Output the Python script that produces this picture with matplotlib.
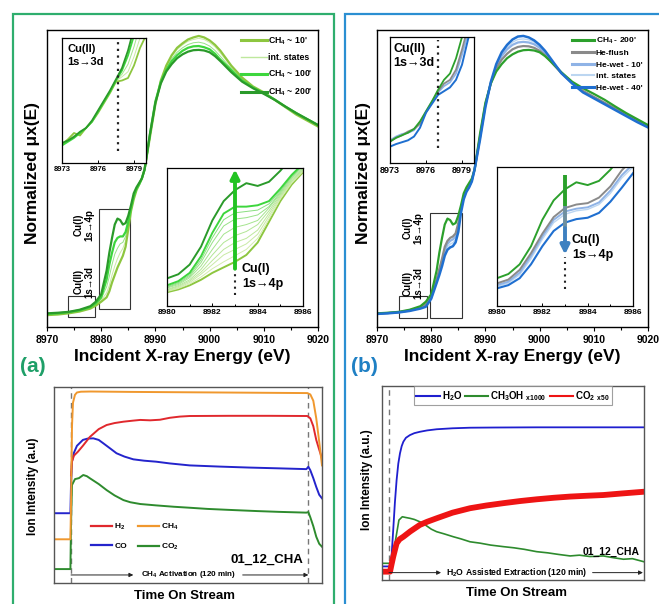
import matplotlib
matplotlib.use('Agg')
import matplotlib.pyplot as plt
from matplotlib.patches import Rectangle
from matplotlib.lines import Line2D
from matplotlib.ticker import MultipleLocator

plt.rcParams['font.family'] = ['Liberation Sans', 'DejaVu Sans']
plt.rcParams['font.weight'] = 'bold'
plt.rcParams['mathtext.fontset'] = 'custom'
plt.rcParams['mathtext.rm'] = 'Liberation Sans:bold'
plt.rcParams['mathtext.it'] = 'Liberation Sans:italic:bold'
plt.rcParams['mathtext.bf'] = 'Liberation Sans:bold'

# ---------------- DATA ----------------
E_main = [8970, 8972, 8974, 8976, 8978, 8979, 8980, 8981, 8981.5, 8982, 8982.5, 8983, 8983.5,
          8984, 8984.5, 8985, 8985.5, 8986, 8986.5, 8987, 8987.5, 8988, 8989, 8990, 8991, 8992,
          8993, 8994, 8995, 8996, 8997, 8998, 8999, 9000, 9001, 9002, 9004, 9006, 9008, 9010,
          9012, 9014, 9016, 9018, 9020]

a_ch4_10 = [0.040, 0.042, 0.046, 0.052, 0.062, 0.072, 0.085, 0.10, 0.12, 0.15, 0.175, 0.20, 0.22,
            0.24, 0.27, 0.33, 0.39, 0.43, 0.46, 0.48, 0.50, 0.53, 0.64, 0.75, 0.83, 0.88, 0.915,
            0.94, 0.955, 0.968, 0.975, 0.98, 0.975, 0.965, 0.95, 0.93, 0.88, 0.84, 0.81, 0.79,
            0.765, 0.74, 0.715, 0.695, 0.675]
a_int_1 = [0.041, 0.043, 0.047, 0.053, 0.064, 0.075, 0.09, 0.115, 0.14, 0.175, 0.205, 0.23, 0.25,
           0.265, 0.29, 0.34, 0.395, 0.435, 0.462, 0.481, 0.50, 0.53, 0.645, 0.752, 0.828, 0.876,
           0.91, 0.934, 0.95, 0.962, 0.968, 0.972, 0.968, 0.958, 0.943, 0.922, 0.876, 0.837, 0.809,
           0.789, 0.765, 0.741, 0.716, 0.696, 0.676]
a_int_2 = [0.042, 0.044, 0.048, 0.054, 0.065, 0.077, 0.095, 0.135, 0.17, 0.21, 0.245, 0.265, 0.28,
           0.285, 0.305, 0.345, 0.398, 0.438, 0.464, 0.481, 0.50, 0.53, 0.647, 0.756, 0.827, 0.87,
           0.903, 0.925, 0.94, 0.951, 0.957, 0.959, 0.955, 0.946, 0.931, 0.911, 0.87, 0.834, 0.808,
           0.788, 0.766, 0.742, 0.718, 0.698, 0.678]
a_ch4_100 = [0.044, 0.046, 0.050, 0.056, 0.067, 0.080, 0.10, 0.16, 0.21, 0.25, 0.285, 0.30, 0.305,
             0.305, 0.32, 0.355, 0.40, 0.44, 0.465, 0.48, 0.50, 0.53, 0.65, 0.76, 0.825, 0.865,
             0.895, 0.915, 0.93, 0.94, 0.945, 0.946, 0.942, 0.935, 0.92, 0.90, 0.865, 0.83, 0.806,
             0.787, 0.766, 0.742, 0.72, 0.70, 0.68]
a_ch4_200 = [0.046, 0.048, 0.051, 0.058, 0.070, 0.085, 0.11, 0.19, 0.25, 0.30, 0.345, 0.365, 0.36,
             0.345, 0.35, 0.375, 0.41, 0.45, 0.47, 0.485, 0.50, 0.53, 0.65, 0.755, 0.82, 0.86,
             0.885, 0.905, 0.918, 0.927, 0.932, 0.933, 0.931, 0.925, 0.912, 0.895, 0.858, 0.826,
             0.804, 0.785, 0.765, 0.742, 0.72, 0.70, 0.68]

b_ch4_200 = a_ch4_200
b_he_flush = [0.045, 0.047, 0.050, 0.056, 0.066, 0.076, 0.10, 0.16, 0.195, 0.23, 0.27, 0.29, 0.30,
              0.305, 0.315, 0.35, 0.40, 0.44, 0.46, 0.475, 0.495, 0.53, 0.64, 0.75, 0.82, 0.87,
              0.90, 0.92, 0.935, 0.943, 0.946, 0.945, 0.94, 0.93, 0.915, 0.895, 0.855, 0.822,
              0.795, 0.775, 0.755, 0.735, 0.715, 0.695, 0.675]
b_he_wet_10 = [0.045, 0.047, 0.050, 0.055, 0.065, 0.074, 0.098, 0.155, 0.19, 0.222, 0.26, 0.28,
               0.29, 0.295, 0.305, 0.34, 0.395, 0.437, 0.458, 0.473, 0.493, 0.53, 0.637, 0.746,
               0.823, 0.877, 0.912, 0.935, 0.95, 0.958, 0.96, 0.958, 0.952, 0.94, 0.922, 0.90,
               0.857, 0.822, 0.794, 0.773, 0.753, 0.733, 0.713, 0.693, 0.674]
b_int = [0.044, 0.046, 0.049, 0.055, 0.064, 0.071, 0.097, 0.152, 0.183, 0.214, 0.25, 0.27, 0.279,
         0.284, 0.295, 0.33, 0.39, 0.434, 0.456, 0.471, 0.491, 0.53, 0.634, 0.743, 0.824, 0.881,
         0.918, 0.942, 0.959, 0.968, 0.97, 0.967, 0.959, 0.945, 0.926, 0.903, 0.856, 0.821, 0.792,
         0.772, 0.752, 0.732, 0.712, 0.692, 0.673]
b_he_wet_40 = [0.044, 0.046, 0.049, 0.054, 0.062, 0.068, 0.095, 0.148, 0.175, 0.205, 0.24, 0.26,
               0.268, 0.272, 0.285, 0.32, 0.385, 0.43, 0.455, 0.47, 0.49, 0.53, 0.63, 0.74, 0.825,
               0.885, 0.925, 0.95, 0.968, 0.978, 0.98, 0.975, 0.965, 0.95, 0.93, 0.905, 0.855,
               0.82, 0.79, 0.77, 0.75, 0.73, 0.71, 0.69, 0.672]

# inset Cu(I) 1s->4p region
E_4p = [8980, 8980.5, 8981, 8981.5, 8982, 8982.5, 8983, 8983.5, 8984, 8984.5, 8985, 8985.5, 8986]
a4_ch4_10 = [0.10, 0.12, 0.15, 0.19, 0.24, 0.28, 0.32, 0.37, 0.46, 0.61, 0.76, 0.88, 0.97]
a4_int = [
    [0.105, 0.127, 0.16, 0.21, 0.27, 0.32, 0.365, 0.41, 0.49, 0.63, 0.775, 0.89, 0.975],
    [0.11, 0.133, 0.17, 0.23, 0.30, 0.37, 0.41, 0.45, 0.52, 0.65, 0.785, 0.90, 0.98],
    [0.115, 0.14, 0.18, 0.245, 0.33, 0.41, 0.46, 0.49, 0.55, 0.67, 0.795, 0.905, 0.985],
    [0.12, 0.147, 0.19, 0.265, 0.37, 0.46, 0.51, 0.54, 0.59, 0.69, 0.805, 0.915, 0.99],
    [0.13, 0.155, 0.205, 0.29, 0.41, 0.52, 0.57, 0.59, 0.62, 0.71, 0.815, 0.925, 1.0],
    [0.135, 0.163, 0.215, 0.315, 0.46, 0.58, 0.63, 0.64, 0.66, 0.72, 0.825, 0.935, 1.01],
    [0.14, 0.17, 0.225, 0.335, 0.495, 0.625, 0.675, 0.685, 0.695, 0.74, 0.835, 0.94, 1.02],
]
a4_ch4_100 = [0.15, 0.18, 0.24, 0.36, 0.53, 0.67, 0.72, 0.72, 0.73, 0.76, 0.85, 0.95, 1.03]
a4_ch4_200 = [0.20, 0.23, 0.30, 0.43, 0.62, 0.76, 0.84, 0.89, 0.87, 0.90, 0.98, 1.08, 1.18]

b4_ch4_200 = a4_ch4_200
b4_he_flush = [0.163, 0.19, 0.26, 0.38, 0.52, 0.64, 0.705, 0.73, 0.74, 0.78, 0.86, 0.975, 1.06]
b4_he_wet_10 = [0.15, 0.175, 0.24, 0.36, 0.50, 0.62, 0.68, 0.70, 0.71, 0.745, 0.83, 0.94, 1.02]
b4_int = [0.14, 0.165, 0.225, 0.34, 0.48, 0.60, 0.66, 0.685, 0.695, 0.73, 0.81, 0.92, 1.0]
b4_he_wet_40 = [0.127, 0.15, 0.20, 0.30, 0.43, 0.54, 0.60, 0.625, 0.635, 0.67, 0.75, 0.85, 0.955]

# inset Cu(II) 1s->3d region
E_3d = [8973, 8973.5, 8974, 8974.5, 8975, 8975.5, 8976, 8976.5, 8977, 8977.5, 8978, 8978.5,
        8979, 8979.5, 8980]
a3_ch4_10 = [0.15, 0.19, 0.24, 0.22, 0.28, 0.33, 0.40, 0.48, 0.56, 0.65, 0.66, 0.68, 0.78, 0.92, 1.02]
a3_int_1 = [0.15, 0.185, 0.22, 0.23, 0.28, 0.33, 0.405, 0.485, 0.565, 0.655, 0.69, 0.73, 0.85, 1.0, 1.15]
a3_int_2 = [0.145, 0.175, 0.21, 0.235, 0.28, 0.33, 0.41, 0.49, 0.57, 0.66, 0.71, 0.79, 0.93, 1.1, 1.28]
a3_ch4_100 = [0.14, 0.17, 0.20, 0.24, 0.28, 0.33, 0.41, 0.49, 0.57, 0.66, 0.74, 0.86, 1.02, 1.2, 1.4]
a3_ch4_200 = [0.16, 0.18, 0.21, 0.25, 0.28, 0.34, 0.42, 0.50, 0.58, 0.67, 0.76, 0.90, 1.08, 1.3, 1.5]

b3_ch4_200 = [0.17, 0.20, 0.22, 0.24, 0.27, 0.33, 0.41, 0.49, 0.58, 0.66, 0.71, 0.83, 1.0, 1.18, 1.35]
b3_he_flush = [0.17, 0.20, 0.22, 0.25, 0.27, 0.31, 0.40, 0.48, 0.57, 0.63, 0.66, 0.74, 0.90, 1.08, 1.25]
b3_he_wet_10 = [0.18, 0.21, 0.23, 0.24, 0.26, 0.32, 0.41, 0.49, 0.56, 0.61, 0.64, 0.71, 0.86, 1.03, 1.2]
b3_he_wet_40 = [0.13, 0.15, 0.165, 0.18, 0.21, 0.28, 0.40, 0.47, 0.54, 0.57, 0.60, 0.66, 0.78, 0.98, 1.15]

# mass spec (a): CH4 activation
t_ch4 = [-8.6, -0.3, 0.0, 0.5, 1.0, 2.0, 3.0, 5, 10, 30, 60, 90, 119.5, 121, 122.5, 124, 125.5, 126.9]
ms_ch4 = [0.223, 0.223, 0.40, 0.80, 0.92, 0.96, 0.972, 0.976, 0.977, 0.975, 0.973, 0.971, 0.969,
          0.962, 0.93, 0.84, 0.72, 0.60]
t_h2 = [0.0, 0.5, 1.5, 3.5, 6, 9.5, 14, 18, 22, 26.5, 31, 35, 40, 45, 50, 55, 60, 80, 100, 119.5,
        121, 122.5, 124, 125.5, 126.9]
ms_h2 = [0.55, 0.62, 0.65, 0.67, 0.70, 0.745, 0.785, 0.806, 0.816, 0.823, 0.828, 0.832, 0.830,
         0.833, 0.843, 0.849, 0.852, 0.853, 0.853, 0.852, 0.84, 0.80, 0.73, 0.68, 0.635]
t_co = [-8.6, -0.3, 0.0, 0.5, 1.5, 3, 6, 8.5, 11.3, 14, 16.3, 20, 23, 27, 31.5, 37, 43, 50, 60, 75,
        90, 105, 119, 120, 121, 122.5, 124, 125.5, 126.9]
ms_co = [0.356, 0.356, 0.50, 0.62, 0.665, 0.70, 0.73, 0.737, 0.738, 0.73, 0.713, 0.685, 0.662, 0.645,
         0.631, 0.624, 0.619, 0.61, 0.60, 0.594, 0.589, 0.585, 0.581, 0.593, 0.575, 0.535, 0.49,
         0.45, 0.432]
t_co2 = [-8.6, -0.3, 0.0, 0.5, 2, 4, 6.2, 8, 9.6, 14, 18, 22, 26.5, 30, 35, 43, 52, 60, 69, 80, 94,
         105, 119, 120, 121, 122.5, 124, 125.5, 126.9]
ms_co2 = [0.071, 0.071, 0.30, 0.50, 0.53, 0.535, 0.551, 0.545, 0.534, 0.505, 0.474, 0.447, 0.423,
          0.412, 0.403, 0.396, 0.389, 0.384, 0.378, 0.373, 0.367, 0.363, 0.359, 0.362, 0.335, 0.29,
          0.236, 0.20, 0.185]

# mass spec (b): H2O assisted extraction
t_h2o = [-3.3, 0.5, 1.2, 2.0, 2.8, 3.6, 4.4, 5.2, 6.0, 6.8, 8.0, 9.9, 12, 14.6, 18, 22.5, 30, 38.3,
         50, 70, 90, 110, 120.5]
ms_h2o = [0.07, 0.07, 0.12, 0.258, 0.40, 0.515, 0.60, 0.653, 0.69, 0.713, 0.733, 0.747, 0.757, 0.764,
          0.771, 0.777, 0.782, 0.785, 0.786, 0.787, 0.787, 0.787, 0.787]
t_meoh = [-3.3, 0.5, 1.5, 3.1, 4.7, 6.3, 8, 9.9, 12, 14.6, 17, 20, 22.5, 26, 30.4, 34, 38.3, 43, 48,
          54, 59, 64, 69.8, 75, 80, 85.6, 90, 95, 101.3, 106, 110.8, 115, 120.5]
ms_meoh = [0.086, 0.086, 0.10, 0.206, 0.309, 0.326, 0.322, 0.318, 0.312, 0.30, 0.285, 0.262, 0.249,
           0.238, 0.223, 0.212, 0.197, 0.19, 0.18, 0.172, 0.166, 0.158, 0.146, 0.14, 0.132, 0.124,
           0.128, 0.121, 0.124, 0.115, 0.107, 0.11, 0.094]
t_co2b = [-3.3, 0.5, 1.2, 2, 3.6, 5, 6.8, 10, 14.6, 18, 22.5, 30, 38.3, 46, 54, 62, 69.8, 78, 85.6,
          93, 101.3, 110, 120.5]
ms_co2b = [0.043, 0.043, 0.08, 0.12, 0.189, 0.21, 0.223, 0.25, 0.284, 0.30, 0.318, 0.347, 0.37,
           0.384, 0.396, 0.407, 0.416, 0.424, 0.43, 0.434, 0.438, 0.446, 0.455]

# ---------------- FIGURE ----------------
W, H = 659, 604
fig = plt.figure(figsize=(W / 100, H / 100), dpi=100)


def add_ax(x0, y0, x1, y1, z=1):
    ax = fig.add_axes([x0 / W, 1 - y1 / H, (x1 - x0) / W, (y1 - y0) / H])
    ax.set_zorder(z)
    return ax


def ftext(x, y, s, **kw):
    fig.text(x / W, 1 - y / H, s, **kw)


GREEN_BORDER = '#2fae6e'
BLUE_BORDER = '#2b8fd2'
fig.add_artist(Rectangle((13 / W, -0.05), (334 - 13) / W, 1.05 - 14 / H, transform=fig.transFigure,
                         fill=False, edgecolor=GREEN_BORDER, lw=1.6))
fig.add_artist(Rectangle((345 / W, -0.05), 0.6, 1.05 - 14 / H, transform=fig.transFigure,
                         fill=False, edgecolor=BLUE_BORDER, lw=1.6))

c10, c100, c200 = '#8dc63f', '#3dd63d', '#2a9a2a'
cint_a = ['#d3ecaf', '#c9eaa6', '#bee89d', '#b2e695', '#a5e48e', '#97e287', '#89df80']
cg, cgrey, cw10, cint_b, cw40 = '#2ca02c', '#8a8a8a', '#8fb3e6', '#bcd6f1', '#1f6fd0'


def style_main(ax):
    ax.set_xlim(8970, 9020)
    ax.set_ylim(0, 1)
    ax.set_yticks([])
    ax.xaxis.set_major_locator(MultipleLocator(10))
    ax.xaxis.set_minor_locator(MultipleLocator(5))
    ax.tick_params(axis='x', which='major', direction='out', length=3, width=0.8, pad=2.5,
                   labelsize=7.5)
    ax.tick_params(axis='x', which='minor', direction='out', length=2, width=0.8)
    for s in ax.spines.values():
        s.set_linewidth(1.0)


def style_inset(ax, xlim, major, minor, fs):
    ax.set_xlim(*xlim)
    ax.set_ylim(0, 1)
    ax.set_yticks([])
    ax.xaxis.set_major_locator(MultipleLocator(major))
    if minor:
        ax.xaxis.set_minor_locator(MultipleLocator(minor))
    ax.tick_params(axis='x', which='major', direction='in', length=2.5, width=0.7, pad=2.5,
                   labelsize=fs)
    ax.tick_params(axis='x', which='minor', direction='in', length=1.5, width=0.7)
    for s in ax.spines.values():
        s.set_linewidth(0.9)


# ---------- panel (a) main ----------
axA = add_ax(47, 30, 318, 327)
style_main(axA)
axA.plot(E_main, a_int_1, color=cint_a[1], lw=0.7)
axA.plot(E_main, a_int_2, color=cint_a[5], lw=0.7)
axA.plot(E_main, a_ch4_10, color=c10, lw=1.6)
axA.plot(E_main, a_ch4_100, color=c100, lw=1.6)
axA.plot(E_main, a_ch4_200, color=c200, lw=1.6)
axA.add_patch(Rectangle((8973.9, 0.034), 5.0, 0.07, fill=False, ec='#333333', lw=0.8))
axA.add_patch(Rectangle((8979.6, 0.061), 5.7, 0.336, fill=False, ec='#333333', lw=0.8))
axA.text(8976.8, 0.343, 'Cu(I)\n1s\u21924p', rotation=90, ha='center', va='center', fontsize=7,
         linespacing=1.1)
axA.text(8976.8, 0.152, 'Cu(II)\n1s\u21923d', rotation=90, ha='center', va='center', fontsize=7,
         linespacing=1.1)
hA = [Line2D([], [], color=c10, lw=2.2), Line2D([], [], color=cint_a[2], lw=1.0),
      Line2D([], [], color=c100, lw=2.2), Line2D([], [], color=c200, lw=2.2)]
axA.legend(hA, ["CH$_4$ ~ 10'", 'int. states', "CH$_4$ ~ 100'", "CH$_4$ ~ 200'"],
           loc='upper right', bbox_to_anchor=(1.0, 1.0), frameon=False, fontsize=6.3,
           handlelength=2.9, handletextpad=0.2, labelspacing=0.75, borderaxespad=0.2)

# inset 3d (a)
a3 = add_ax(62, 38, 146, 163, z=3)
style_inset(a3, (8973, 8980), 3, None, 5.5)
a3.plot(E_3d, a3_int_1, color=cint_a[1], lw=0.7)
a3.plot(E_3d, a3_int_2, color=cint_a[4], lw=0.7)
a3.plot(E_3d, a3_ch4_10, color=c10, lw=1.3)
a3.plot(E_3d, a3_ch4_100, color=c100, lw=1.3)
a3.plot(E_3d, a3_ch4_200, color=c200, lw=1.3)
a3.plot([8977.66, 8977.66], [0.10, 0.97], color='#222222', ls=(0, (1, 2)), lw=1.6)
a3.text(8973.45, 0.95, 'Cu(II)\n1s\u21923d', ha='left', va='top', fontsize=8, linespacing=1.3)

# inset 4p (a)
a4 = add_ax(167, 168, 303, 306, z=3)
style_inset(a4, (8980, 8986), 2, 1, 6)
a4.plot(E_4p, a4_ch4_10, color=c10, lw=1.4)
for yv, cc in zip(a4_int, cint_a):
    a4.plot(E_4p, yv, color=cc, lw=0.7)
a4.plot(E_4p, a4_ch4_100, color=c100, lw=1.4)
a4.plot(E_4p, a4_ch4_200, color=c200, lw=1.4)
a4.plot([8983, 8983], [0.08, 0.27], color='#222222', ls=(0, (1, 2)), lw=1.5)
a4.annotate('', xy=(8983, 0.99), xytext=(8983, 0.27),
            arrowprops=dict(arrowstyle='-|>', color='#22c322', lw=2.8, mutation_scale=13,
                            shrinkA=0, shrinkB=0))
a4.text(8983.3, 0.215, 'Cu(I)\n1s\u21924p', ha='left', va='center', fontsize=9, linespacing=1.4)

# ---------- panel (b) main ----------
axB = add_ax(377, 30, 648, 327)
style_main(axB)
axB.plot(E_main, b_int, color=cint_b, lw=1.0)
axB.plot(E_main, b_he_wet_10, color=cw10, lw=1.6)
axB.plot(E_main, b_he_flush, color=cgrey, lw=1.6)
axB.plot(E_main, b_ch4_200, color=cg, lw=1.6)
axB.plot(E_main, b_he_wet_40, color=cw40, lw=1.8)
axB.add_patch(Rectangle((8974.1, 0.031), 5.2, 0.073, fill=False, ec='#333333', lw=0.8))
axB.add_patch(Rectangle((8979.8, 0.031), 5.8, 0.354, fill=False, ec='#333333', lw=0.8))
axB.text(8976.6, 0.333, 'Cu(I)\n1s\u21924p', rotation=90, ha='center', va='center', fontsize=7,
         linespacing=1.1)
axB.text(8976.6, 0.148, 'Cu(II)\n1s\u21923d', rotation=90, ha='center', va='center', fontsize=7,
         linespacing=1.1)
hB = [Line2D([], [], color=cg, lw=2.2), Line2D([], [], color=cgrey, lw=2.2),
      Line2D([], [], color=cw10, lw=2.2), Line2D([], [], color=cint_b, lw=1.5),
      Line2D([], [], color=cw40, lw=2.2)]
axB.legend(hB, ["CH$_4$ - 200'", 'He-flush', "He-wet - 10'", 'int. states', "He-wet - 40'"],
           loc='upper right', bbox_to_anchor=(1.0, 1.0), frameon=False, fontsize=6,
           handlelength=2.7, handletextpad=0.2, labelspacing=0.45, borderaxespad=0.25)

b3 = add_ax(390, 37, 474, 163, z=3)
style_inset(b3, (8973, 8980), 3, None, 6.5)
b3.plot(E_3d, b3_he_wet_10, color=cw10, lw=1.3)
b3.plot(E_3d, b3_he_flush, color=cgrey, lw=1.3)
b3.plot(E_3d, b3_ch4_200, color=cg, lw=1.3)
b3.plot(E_3d, b3_he_wet_40, color=cw40, lw=1.4)
b3.plot([8977.0, 8977.0], [0.12, 0.975], color='#222222', ls=(0, (1, 2)), lw=1.6)
b3.text(8973.25, 0.955, 'Cu(II)\n1s\u21923d', ha='left', va='top', fontsize=9, linespacing=1.3)

b4 = add_ax(497, 167, 633, 306, z=3)
style_inset(b4, (8980, 8986), 2, 1, 6)
b4.plot(E_4p, b4_int, color=cint_b, lw=1.0)
b4.plot(E_4p, b4_he_wet_10, color=cw10, lw=1.4)
b4.plot(E_4p, b4_he_flush, color=cgrey, lw=1.4)
b4.plot(E_4p, b4_ch4_200, color=cg, lw=1.4)
b4.plot(E_4p, b4_he_wet_40, color=cw40, lw=1.5)
b4.plot([8983, 8983], [0.12, 0.35], color='#222222', ls=(0, (1, 2)), lw=1.5)
b4.plot([8983, 8983], [0.72, 0.94], color='#2aa02a', lw=2.8, solid_capstyle='butt')
b4.plot([8983, 8983], [0.56, 0.72], color='#6f8f9f', lw=2.8, solid_capstyle='butt')
b4.annotate('', xy=(8983, 0.37), xytext=(8983, 0.56),
            arrowprops=dict(arrowstyle='-|>', color='#3d80c0', lw=2.8, mutation_scale=13,
                            shrinkA=0, shrinkB=0))
b4.text(8983.3, 0.42, 'Cu(I)\n1s\u21924p', ha='left', va='center', fontsize=9, linespacing=1.4)

# ---------- mass-spec (a) ----------
mA = add_ax(54, 387, 322, 583)
mA.set_xlim(-8.6, 126.9)
mA.set_ylim(0, 1)
mA.set_xticks([])
mA.set_yticks([])
for s in mA.spines.values():
    s.set_color('#555555')
    s.set_linewidth(1.0)
for tv in (0, 120):
    mA.axvline(tv, color='#777777', ls=(0, (4, 3)), lw=1.0)
mA.plot(t_co2, ms_co2, color='#2e8b2e', lw=1.4)
mA.plot(t_co, ms_co, color='#2424cc', lw=1.4)
mA.plot(t_h2, ms_h2, color='#e0282d', lw=1.4)
mA.plot(t_ch4, ms_ch4, color='#f0982e', lw=1.4)
hM = [Line2D([], [], color='#e0282d', lw=1.6), Line2D([], [], color='#2424cc', lw=1.6),
      Line2D([], [], color='#f0982e', lw=1.6), Line2D([], [], color='#2e8b2e', lw=1.6)]
mA.legend(hM, ['H$_2$', 'CO', 'CH$_4$', 'CO$_2$'], ncol=2, loc='upper left',
          bbox_to_anchor=(0.11, 0.35), frameon=False, fontsize=6, handlelength=2.5,
          handletextpad=0.3, labelspacing=1.2, columnspacing=1.3)
mA.text(0.93, 0.117, '01_12_CHA', transform=mA.transAxes, ha='right', va='center', fontsize=9.5)
ya = 0.041
arr = dict(arrowstyle='-|>', color='#222222', lw=0.7, mutation_scale=6, shrinkA=0, shrinkB=0)
mA.annotate('', xy=(31.5, ya), xytext=(0, ya), arrowprops=arr)
mA.annotate('', xy=(120, ya), xytext=(86.8, ya), arrowprops=arr)
mA.text(59.2, ya, 'CH$_4$ Activation (120 min)', ha='center', va='center', fontsize=5.8)

# ---------- mass-spec (b) ----------
mB = add_ax(382, 386, 644, 580)
mB.set_xlim(-3.3, 120.5)
mB.set_ylim(0, 1)
mB.set_xticks([])
mB.set_yticks([])
for s in mB.spines.values():
    s.set_color('#555555')
    s.set_linewidth(1.0)
mB.axvline(0, color='#777777', ls=(0, (4, 3)), lw=1.0)
mB.plot(t_meoh, ms_meoh, color='#2e8b2e', lw=1.2)
mB.plot(t_h2o, ms_h2o, color='#1f1fcf', lw=1.3)
mB.plot(t_co2b, ms_co2b, color='#ee1414', lw=4.2)
hN = [Line2D([], [], color='#1f1fcf', lw=1.5), Line2D([], [], color='#2e8b2e', lw=1.5),
      Line2D([], [], color='#ee1414', lw=1.5)]
lg = mB.legend(hN, ['H$_2$O', r'CH$_3$OH $_{\mathrm{x1000}}$', r'CO$_2$ $_{\mathrm{x50}}$'],
               ncol=3, loc='upper center', bbox_to_anchor=(0.5, 1.0), frameon=True, fancybox=False,
               fontsize=7, handlelength=2.4, handletextpad=0.2, columnspacing=0.3, borderpad=0.25,
               borderaxespad=0.05)
lg.get_frame().set_edgecolor('#888888')
lg.get_frame().set_linewidth(0.8)
mB.text(0.985, 0.144, '01_12_CHA', transform=mB.transAxes, ha='right', va='center', fontsize=7.5)
yb = 0.038
mB.annotate('', xy=(24.6, yb), xytext=(0, yb), arrowprops=arr)
mB.annotate('', xy=(120, yb), xytext=(96.2, yb), arrowprops=arr)
mB.text(60.4, yb, 'H$_2$O Assisted Extraction (120 min)', ha='center', va='center', fontsize=6.2)

# ---------- outer labels ----------
ftext(33, 173, 'Normalized \u03bcx(E)', rotation=90, ha='center', va='center', fontsize=12.5)
ftext(363, 173, 'Normalized \u03bcx(E)', rotation=90, ha='center', va='center', fontsize=12.5)
ftext(182, 357, 'Incident X-ray Energy (eV)', ha='center', va='center', fontsize=12.5)
ftext(512, 357, 'Incident X-ray Energy (eV)', ha='center', va='center', fontsize=12.5)
ftext(33, 366, '(a)', ha='center', va='center', fontsize=15, color='#1f9f68')
ftext(364, 366, '(b)', ha='center', va='center', fontsize=15, color='#1f80c4')
ftext(184, 596, 'Time On Stream', ha='center', va='center', fontsize=9.5)
ftext(516, 593, 'Time On Stream', ha='center', va='center', fontsize=9.5)
ftext(33, 486, 'Ion Intensity (a.u)', rotation=90, ha='center', va='center', fontsize=8.5)
ftext(367, 480, 'Ion Intensity (a.u.)', rotation=90, ha='center', va='center', fontsize=8.5)

fig.savefig('out.png', dpi=100)
